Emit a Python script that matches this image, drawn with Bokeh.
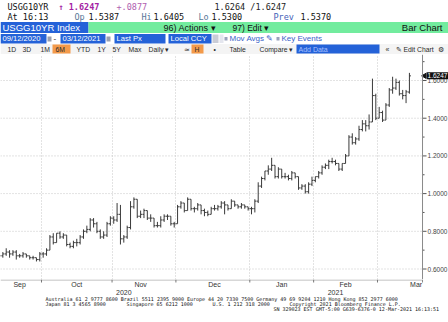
import math
from bokeh.plotting import figure
from bokeh.layouts import column
from bokeh.models import Range1d, FixedTicker, ColumnDataSource, Span
from bokeh.core.properties import value
from bokeh.embed import file_html
from bokeh.resources import INLINE

# ---------------- data (USGG10YR daily OHLC) ----------------
dates = [
    "2020-09-14", "2020-09-15", "2020-09-16", "2020-09-17", "2020-09-18", "2020-09-21", "2020-09-22",
    "2020-09-23", "2020-09-24", "2020-09-25", "2020-09-28", "2020-09-29", "2020-09-30",
    "2020-10-01", "2020-10-02", "2020-10-05", "2020-10-06", "2020-10-07", "2020-10-08", "2020-10-09",
    "2020-10-13", "2020-10-14", "2020-10-15", "2020-10-16", "2020-10-19", "2020-10-20", "2020-10-21",
    "2020-10-22", "2020-10-23", "2020-10-26", "2020-10-27", "2020-10-28", "2020-10-29", "2020-10-30",
    "2020-11-02", "2020-11-03", "2020-11-04", "2020-11-05", "2020-11-06", "2020-11-09", "2020-11-10",
    "2020-11-12", "2020-11-13", "2020-11-16", "2020-11-17", "2020-11-18", "2020-11-19", "2020-11-20",
    "2020-11-23", "2020-11-24", "2020-11-25", "2020-11-27", "2020-11-30",
    "2020-12-01", "2020-12-02", "2020-12-03", "2020-12-04", "2020-12-07", "2020-12-08", "2020-12-09",
    "2020-12-10", "2020-12-11", "2020-12-14", "2020-12-15", "2020-12-16", "2020-12-17", "2020-12-18",
    "2020-12-21", "2020-12-22", "2020-12-23", "2020-12-24", "2020-12-28", "2020-12-29", "2020-12-30",
    "2020-12-31",
    "2021-01-04", "2021-01-05", "2021-01-06", "2021-01-07", "2021-01-08", "2021-01-11", "2021-01-12",
    "2021-01-13", "2021-01-14", "2021-01-15", "2021-01-19", "2021-01-20", "2021-01-21", "2021-01-22",
    "2021-01-25", "2021-01-26", "2021-01-27", "2021-01-28", "2021-01-29",
    "2021-02-01", "2021-02-02", "2021-02-03", "2021-02-04", "2021-02-05", "2021-02-08", "2021-02-09",
    "2021-02-10", "2021-02-11", "2021-02-12", "2021-02-16", "2021-02-17", "2021-02-18", "2021-02-19",
    "2021-02-22", "2021-02-23", "2021-02-24", "2021-02-25", "2021-02-26",
    "2021-03-01", "2021-03-02", "2021-03-03", "2021-03-04", "2021-03-05", "2021-03-08", "2021-03-09",
    "2021-03-10", "2021-03-11", "2021-03-12",
]
opens = [
    .67, .67, .68, .69, .68, .69, .67, .67, .68, .67, .66, .66, .65,
    .68, .68, .70, .77, .74, .79, .77, .78, .73, .72, .74, .74, .77, .80, .81, .86, .84, .80, .77, .78, .84,
    .87, .86, .89, .76, .77, .82, .93, .97, .88, .89, .91, .87, .87, .83, .83, .86, .88, .88, .84,
    .84, .93, .95, .91, .97, .92, .92, .94, .91, .90, .89, .92, .92, .93, .95, .94, .92, .96, .94, .93, .94, .93,
    .92, .92, .96, 1.04, 1.08, 1.12, 1.13, 1.15, 1.09, 1.13, 1.09, 1.09, 1.08, 1.11, 1.09, 1.03, 1.04, 1.01, 1.05,
    1.07, 1.09, 1.11, 1.14, 1.15, 1.17, 1.17, 1.16, 1.13, 1.16, 1.20, 1.30, 1.27, 1.29, 1.34, 1.37, 1.36, 1.38, 1.52,
    1.40, 1.43, 1.39, 1.47, 1.55, 1.56, 1.59, 1.53, 1.52, 1.5387,
]
highs = [
    .685, .69, .71, .70, .70, .70, .68, .69, .68, .67, .67, .66, .69,
    .69, .71, .78, .79, .79, .80, .79, .78, .74, .75, .76, .78, .81, .83, .87, .87, .85, .81, .80, .85, .88,
    .88, .95, .94, .78, .83, .96, .98, .97, .91, .92, .91, .89, .87, .85, .88, .89, .89, .88, .85,
    .94, .96, .95, .98, .97, .93, .95, .94, .92, .91, .93, .94, .94, .96, .96, .94, .97, .96, .94, .95, .94, .93,
    .93, .97, 1.06, 1.09, 1.12, 1.15, 1.19, 1.15, 1.14, 1.13, 1.11, 1.10, 1.12, 1.11, 1.09, 1.05, 1.05, 1.06, 1.09,
    1.09, 1.12, 1.15, 1.16, 1.18, 1.19, 1.18, 1.16, 1.16, 1.21, 1.31, 1.32, 1.30, 1.36, 1.39, 1.39, 1.42, 1.61, 1.53,
    1.46, 1.44, 1.48, 1.56, 1.62, 1.61, 1.60, 1.55, 1.55, 1.6405,
]
lows = [
    .665, .66, .67, .66, .67, .65, .66, .66, .66, .65, .65, .64, .64,
    .66, .67, .70, .73, .74, .76, .76, .72, .71, .71, .72, .73, .76, .79, .80, .82, .79, .76, .76, .77, .83,
    .84, .85, .73, .74, .76, .81, .92, .87, .87, .87, .86, .85, .82, .82, .82, .85, .86, .83, .82,
    .84, .92, .90, .91, .91, .90, .91, .89, .88, .88, .89, .91, .91, .92, .89, .91, .92, .93, .92, .92, .92, .91,
    .89, .90, .95, 1.03, 1.07, 1.10, 1.12, 1.08, 1.08, 1.08, 1.08, 1.07, 1.07, 1.08, 1.02, 1.02, 1.00, 1.00, 1.04,
    1.06, 1.08, 1.10, 1.13, 1.13, 1.16, 1.15, 1.12, 1.12, 1.16, 1.20, 1.26, 1.26, 1.28, 1.33, 1.33, 1.34, 1.38, 1.39,
    1.40, 1.38, 1.39, 1.46, 1.53, 1.55, 1.52, 1.50, 1.48, 1.5300,
]
closes = [
    .67, .68, .69, .68, .69, .67, .67, .68, .67, .66, .66, .65, .68,
    .68, .70, .77, .74, .79, .77, .78, .73, .72, .74, .74, .77, .80, .81, .86, .84, .80, .77, .78, .84, .87,
    .86, .89, .76, .77, .82, .93, .97, .88, .89, .91, .87, .87, .83, .83, .86, .88, .88, .84, .84,
    .93, .95, .91, .97, .92, .92, .94, .91, .90, .89, .92, .92, .93, .95, .94, .92, .96, .94, .93, .94, .93, .92,
    .92, .96, 1.04, 1.08, 1.12, 1.13, 1.15, 1.09, 1.13, 1.09, 1.09, 1.08, 1.11, 1.09, 1.03, 1.04, 1.01, 1.05, 1.07,
    1.09, 1.11, 1.14, 1.15, 1.17, 1.17, 1.16, 1.13, 1.16, 1.20, 1.30, 1.27, 1.29, 1.34, 1.37, 1.36, 1.38, 1.52, 1.40,
    1.43, 1.39, 1.47, 1.55, 1.56, 1.59, 1.53, 1.52, 1.54, 1.6247,
]
last_value = 1.6247
y_ticks = [0.6, 0.8, 1.0, 1.2, 1.4, 1.6]
y_tick_labels = ["0.6000", "0.8000", "1.0000", "1.2000", "1.4000", "1.6000"]
y_minor_ticks = [0.7, 0.9, 1.1, 1.3, 1.5, 1.7]
month_labels = ["Sep", "Oct", "Nov", "Dec", "Jan", "Feb", "Mar"]
month_label_pos = [6, 23, 42, 64, 84, 103, 124]
year_labels = ["2020", "2021"]
year_label_pos = [37, 100]

# ---------------- layout constants ----------------
W = 448
PX_PER_DAY = 3.36
X0 = 0.3                       # left edge of the plotting area (day index)
AXIS_X = 125.9                 # day index where the price axis sits
X1 = X0 + W / PX_PER_DAY       # frame spans the full width
Y0, Y1 = 0.5443, 1.738
px = 1.0 / PX_PER_DAY          # one pixel in day units

# ---------------- derived ----------------
xs = list(range(len(dates)))
boundaries = [i - 0.5 for i in range(1, len(dates)) if dates[i][5:7] != dates[i - 1][5:7]]
TW = 0.45
src = ColumnDataSource(dict(
    x=xs, o=opens, h=highs, l=lows, c=closes,
    xl=[x - TW for x in xs], xr=[x + TW for x in xs],
))

MONO = value("DejaVu Sans Mono")
SANS = value("Liberation Sans")


def t(f, x, y, s, color="#111111", size="8.5px", font=MONO, style="normal", align="left"):
    f.text(x=[x], y=[y], text=[s], text_color=color, text_font_size=size, text_font=font,
           text_font_style=style, text_baseline="middle", text_align=align)


def box(f, l, r, tp, b, color):
    f.quad(left=[l], right=[r], top=[tp], bottom=[b], fill_color=color, line_color=None)


def blank(width, height, xr, yr):
    f = figure(width=width, height=height, x_range=xr, y_range=yr,
               x_axis_type=None, y_axis_type=None, output_backend="svg", toolbar_location=None,
               min_border=0, outline_line_color=None)
    f.grid.visible = False
    return f


# ---------------- header ----------------
hd = blank(W, 54, Range1d(0, W), Range1d(54, 0))
LBL = "#5a7898"
t(hd, 7, 6, "USGG10YR")
t(hd, 58, 6, "\u2191 1.6247", color="#a41fa4", style="bold")
t(hd, 116, 6, "+.0877", color="#b060b0")
t(hd, 214, 6, "1.6264 /1.6247", color="#222222")
t(hd, 7, 16, "At 16:13")
t(hd, 74, 16, "Op", color=LBL); t(hd, 88, 16, "1.5387")
t(hd, 141, 16, "Hi", color=LBL); t(hd, 153, 16, "1.6405")
t(hd, 198, 16, "Lo", color=LBL); t(hd, 211, 16, "1.5300")
t(hd, 273, 16, "Prev", color="#3f62b8"); t(hd, 300, 16, "1.5370")

BLUE = "#2462d8"
box(hd, 0, 88, 21.5, 32.5, BLUE)
box(hd, 88, W, 21.5, 32.5, "#72ec9e")
t(hd, 2, 27.2, "USGG10YR Index", color="white", size="9.5px", font=SANS)
t(hd, 163, 27.2, "96) Actions \u25be", color="#111111", size="9px", font=SANS)
t(hd, 232, 27.2, "97) Edit \u25be", color="#111111", size="8.5px", font=SANS)
t(hd, 442, 27.2, "Bar Chart", color="#111111", size="9.5px", font=SANS, align="right")

for l, r, s in [(0, 46, "09/12/2020"), (60, 105, "03/12/2021"), (114, 165, "Last Px"), (168, 211, "Local CCY")]:
    box(hd, l, r, 33.5, 43, BLUE)
    t(hd, l + 2, 38.3, s, color="white", size="7.6px", font=SANS)
box(hd, 47, 51, 36, 41, "#9aa0b0")
box(hd, 106, 110, 36, 41, "#9aa0b0")
t(hd, 53, 38.3, "-", size="8px", font=SANS)
box(hd, 212, 218, 34, 42.5, "#c9ccd6")
box(hd, 219, 223, 34, 42.5, "#e4e6ee")
box(hd, 224, 227, 36.5, 40, "#9aa2bc")
t(hd, 229, 38.3, "Mov Avgs \u270e", color="#3a62c8", size="8px", font=SANS)
box(hd, 276, 279, 36.5, 40, "#9aa2bc")
t(hd, 281, 38.3, "Key Events", color="#3a62c8", size="8px", font=SANS)

box(hd, 0, W, 43.5, 54, "#f4f4f4")
ORANGE = "#f39a4a"
box(hd, 52, 70, 44, 53, ORANGE)
box(hd, 191, 203, 44, 53, ORANGE)
box(hd, 296, 379, 44, 53, BLUE)
for x, s in [(7, "1D"), (22, "3D"), (40, "1M"), (55, "6M"), (76, "YTD"), (97, "1Y"), (112, "5Y"),
             (128, "Max"), (148, "Daily \u25be"), (183, "\u2243"), (194, "H"), (213, "\u2022"),
             (229, "Table"), (259, "Compare \u25be"), (385, "\u00ab"), (395, "\u270e Edit Chart"), (437, "\u2699")]:
    t(hd, x, 48.7, s, color="#2a2a2a", size="6.8px", font=SANS)
t(hd, 298, 48.7, "Add Data", color="#a9c0ff", size="7px", font=SANS)

# ---------------- chart ----------------
p = figure(frame_width=W, frame_height=225, x_range=Range1d(X0, X1), y_range=Range1d(Y0, Y1),
           x_axis_location=None, y_axis_location=None, output_backend="svg", toolbar_location=None,
           min_border=0, outline_line_color=None, background_fill_color="white")

GRID = "#c6c6c6"
p.ygrid.visible = False
p.xgrid.ticker = FixedTicker(ticks=boundaries)
p.xgrid.grid_line_color = GRID
p.xgrid.grid_line_dash = "1 2"
# horizontal grid lines stop at the price axis
p.segment(x0=[X0] * len(y_ticks), y0=y_ticks, x1=[AXIS_X] * len(y_ticks), y1=y_ticks,
          line_color=GRID, line_dash="1 2", line_width=1)

BAR = "#3a3a3a"
p.segment(x0="x", y0="l", x1="x", y1="h", source=src, line_color=BAR, line_width=1)
p.segment(x0="xl", y0="o", x1="x", y1="o", source=src, line_color=BAR, line_width=1)
p.segment(x0="x", y0="c", x1="xr", y1="c", source=src, line_color=BAR, line_width=1)

# price axis on the right (line, ticks, labels) placed on the same scales
p.add_layout(Span(location=AXIS_X, dimension="height", line_color="#8a8a8a", line_width=1))
p.segment(x0=[AXIS_X] * len(y_ticks), y0=y_ticks, x1=[AXIS_X + 4 * px] * len(y_ticks), y1=y_ticks,
          line_color="#555555", line_width=1)
p.segment(x0=[AXIS_X] * len(y_minor_ticks), y0=y_minor_ticks, x1=[AXIS_X + 2 * px] * len(y_minor_ticks),
          y1=y_minor_ticks, line_color="#555555", line_width=1)
p.text(x=[AXIS_X + 5 * px] * len(y_ticks), y=y_ticks, text=y_tick_labels, text_font_size="6.5px",
       text_font=SANS, text_color="#444444", text_baseline="middle", text_align="left")

# last-price marker
p.scatter(x=[AXIS_X + 2 * px], y=[last_value], marker="triangle", angle=math.pi / 2, size=5,
          fill_color="#111111", line_color="#111111")
p.text(x=[AXIS_X + 4 * px], y=[last_value], text=[f"{last_value:.4f}"], text_font_size="6.5px",
       text_font=SANS, text_color="white", text_baseline="middle", text_align="left",
       background_fill_color="#111111", padding=1)

# ---------------- date strip (shares the chart's x scale) ----------------
st = figure(frame_width=W, height=17, x_range=p.x_range, y_range=Range1d(17, 0),
            x_axis_type=None, y_axis_type=None, output_backend="svg", toolbar_location=None,
            min_border=0, outline_line_color=None)
st.grid.visible = False
st.segment(x0=[X0], y0=[0.5], x1=[AXIS_X], y1=[0.5], line_color="#b0b0b0", line_width=1)
st.segment(x0=[AXIS_X], y0=[0], x1=[AXIS_X], y1=[3], line_color="#8a8a8a", line_width=1)
st.segment(x0=boundaries, y0=[0] * len(boundaries), x1=boundaries, y1=[3] * len(boundaries),
           line_color="#777777", line_width=1)
st.text(x=month_label_pos, y=[5] * len(month_labels), text=month_labels, text_align="center",
        text_baseline="middle", text_font_size="7px", text_font=SANS, text_color="#333333")
st.text(x=year_label_pos, y=[13] * len(year_labels), text=year_labels, text_align="center",
        text_baseline="middle", text_font_size="7px", text_font=SANS, text_color="#333333")

# ---------------- footer ----------------
ft = blank(W, 26, Range1d(0, W), Range1d(26, 0))
FS = "5px"
t(ft, 45, 2, "Australia 61 2 9777 8600 Brazil 5511 2395 9000 Europe 44 20 7330 7500 Germany 49 69 9204 1210 Hong Kong 852 2977 6000", size=FS)
t(ft, 45, 7, "Japan 81 3 4565 8900", size=FS)
t(ft, 126, 7, "Singapore 65 6212 1000", size=FS)
t(ft, 212, 7, "U.S. 1 212 318 2000", size=FS)
t(ft, 289, 7, "Copyright 2021 Bloomberg Finance L.P.", size=FS)
t(ft, 273, 12.5, "SN 329023 EST  GMT-5:00 G639-6376-0 12-Mar-2021 16:13:51", size=FS)

layout = column(hd, p, st, ft, spacing=0)
open("out.html", "w").write(file_html(layout, INLINE))
